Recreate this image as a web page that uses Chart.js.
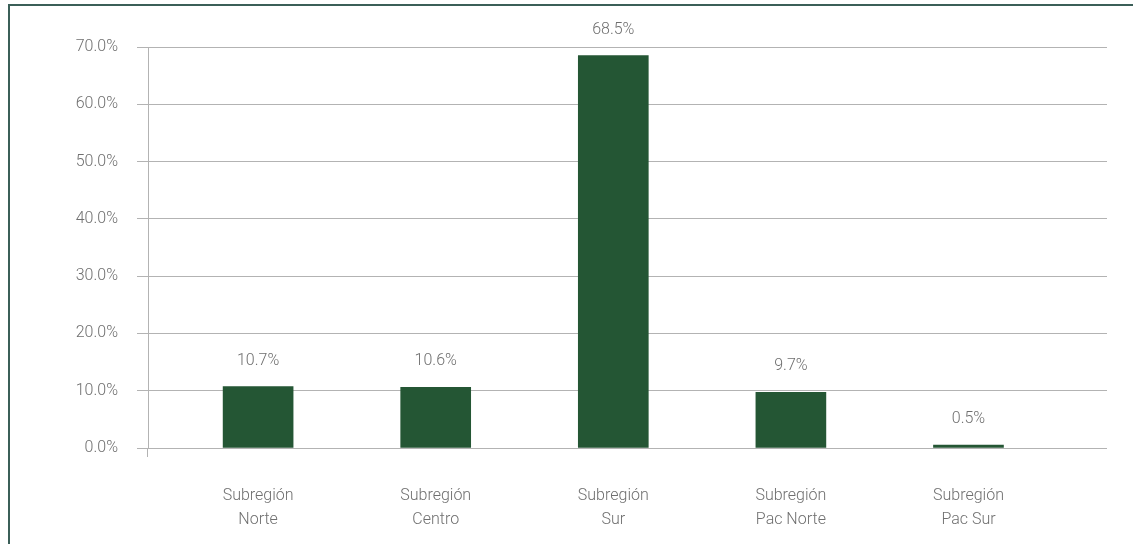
<!DOCTYPE html>
<html>
<head>
<meta charset="utf-8">
<script src="https://cdn.jsdelivr.net/npm/chart.js@4"></script>
<style>
    html, body { margin: 0; padding: 0; background: #ffffff; overflow: hidden; }
    #frame { position: absolute; left: 8px; top: 4px; width: 1200px; height: 600px; border-left: 2px solid #3b5f58; border-top: 2px solid #3b5f58; }
    #wrap { position: absolute; left: 0; top: 0; width: 1133px; height: 544px; }
</style>
</head>
<body>
<div id="frame"></div>
<div id="wrap"><canvas id="share_chart"></canvas></div>
<script>
// subregion shares (%)
const categories = [
    ["Subregión", "Norte"],
    ["Subregión", "Centro"],
    ["Subregión", "Sur"],
    ["Subregión", "Pac Norte"],
    ["Subregión", "Pac Sur"]
];
const shares = [10.7, 10.6, 68.5, 9.7, 0.5];
const y_ticks = [0, 10, 20, 30, 40, 50, 60, 70];

const text_color = "#6f6f6f";
const grid_color = "#b3b3b3";
const font_family = "Roboto, 'DejaVu Sans', sans-serif";

// prints the value above each bar, and the little axis stub under 0%
const bar_labels = {
    id: "bar_labels",
    afterDatasetsDraw(chart) {
        let ctx = chart.ctx;
        let meta = chart.getDatasetMeta(0);
        let y_axis = chart.scales.y;
        ctx.save();
        ctx.strokeStyle = grid_color;
        ctx.lineWidth = 1;
        ctx.beginPath();
        ctx.moveTo(Math.round(y_axis.right) - 0.5, y_axis.bottom);
        ctx.lineTo(Math.round(y_axis.right) - 0.5, y_axis.bottom + 9);
        ctx.stroke();
        ctx.fillStyle = text_color;
        ctx.font = "300 16px " + font_family;
        ctx.textAlign = "center";
        ctx.textBaseline = "middle";
        meta.data.forEach((bar, i) => {
            ctx.fillText(shares[i].toFixed(1) + "%", bar.x, bar.y - 26);
        });
        ctx.restore();
    }
};

function create_share_chart() {
    return new Chart(
        document.getElementById("share_chart"),
        {
            type: "bar",
            data: {
                datasets: [
                    {
                        label: "Participación",
                        data: shares.map((v, i) => ({ x: i, y: v })),
                        backgroundColor: "#245634",
                        barThickness: 70,
                    }
                ]
            },
            options: {
                responsive: true,
                maintainAspectRatio: false,
                animation: false,
                layout: {
                    padding: { left: 0, right: 26, top: 47, bottom: 0 }
                },
                plugins: {
                    legend: { display: false },
                    tooltip: { enabled: false }
                },
                scales: {
                    x: {
                        type: "linear",
                        min: -0.62,
                        max: 4.78,
                        offset: false,
                        bounds: "data",
                        grid: { display: false, drawTicks: false, offset: false },
                        border: { display: false },
                        afterBuildTicks: (axis) => {
                            axis.ticks = categories.map((c, i) => ({ value: i }));
                        },
                        afterFit: (axis) => { axis.height = 96; },
                        ticks: {
                            autoSkip: false,
                            maxRotation: 0,
                            padding: 36,
                            color: text_color,
                            font: { family: font_family, size: 16, weight: 300, lineHeight: 1.5 },
                            callback: (value) => categories[value]
                        }
                    },
                    y: {
                        min: 0,
                        max: 70,
                        afterBuildTicks: (axis) => {
                            axis.ticks = y_ticks.map((v) => ({ value: v }));
                        },
                        afterFit: (axis) => { axis.width = 148; },
                        grid: { color: grid_color, lineWidth: 1, tickLength: 11 },
                        border: { display: true, color: grid_color, width: 1 },
                        ticks: {
                            padding: 19,
                            color: text_color,
                            font: { family: font_family, size: 16, weight: 300 },
                            callback: (value) => value.toFixed(1) + "%"
                        }
                    }
                }
            },
            plugins: [bar_labels]
        }
    );
}

var shareChart = create_share_chart();
</script>
</body>
</html>
